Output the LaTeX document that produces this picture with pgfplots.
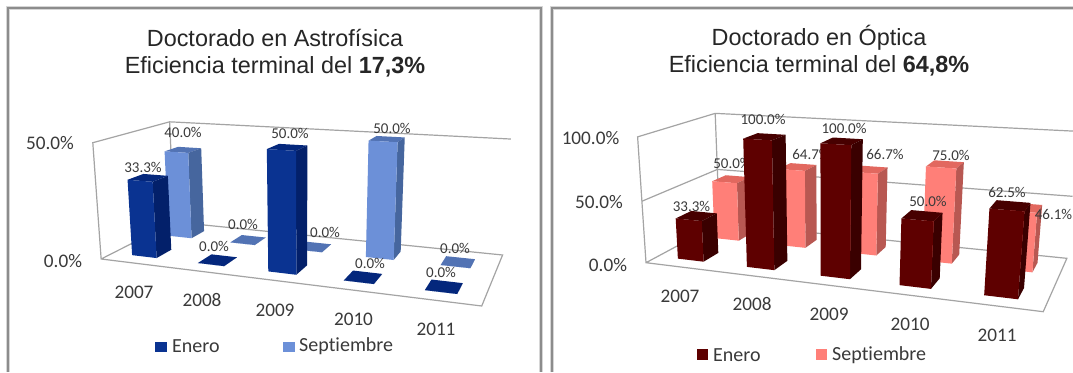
\documentclass[border=0pt]{standalone}
\usepackage{fontspec}
\setmainfont[Ligatures=NoCommon]{Carlito}
\newfontfamily\titlefont{Liberation Sans}
\usepackage{pgfplots}
\pgfplotsset{compat=1.18}

\definecolor{frameline}{HTML}{8C8C8C}
\definecolor{frameglow}{HTML}{D6D6D6}
\definecolor{wall}{HTML}{A4A4A4}
\definecolor{labeltext}{HTML}{3A3A3A}
% Left chart: blues
\definecolor{ajF}{HTML}{0A3391}\definecolor{ajS}{HTML}{03206A}\definecolor{ajT}{HTML}{04277C}
\definecolor{asF}{HTML}{6C90D8}\definecolor{asS}{HTML}{46669E}\definecolor{asT}{HTML}{5273B4}
% Right chart: reds
\definecolor{ojF}{HTML}{5E0000}\definecolor{ojS}{HTML}{3A0000}\definecolor{ojT}{HTML}{470000}
\definecolor{osF}{HTML}{FF7F78}\definecolor{osS}{HTML}{B85852}\definecolor{osT}{HTML}{E2685F}

% Bar footprint on the floor of a chart: c = category slot, d = 0 (Enero) or 1 (Septiembre)
\newcommand{\barface}[6]{%
  \addplot[fill=#5,draw=none] table[row sep=\\,
    x expr={X#1(#2+0.30+0.38*\thisrow{f},#3+0.29+0.40*\thisrow{g},#4*\thisrow{t})},
    y expr={Y#1(#2+0.30+0.38*\thisrow{f},#3+0.29+0.40*\thisrow{g},#4*\thisrow{t})}]
    {f g t\\ #6} --cycle;}
% #1 chart (A or O), #2 category, #3 series, #4 value, #5 colour prefix
\newcommand{\column}[5]{%
  \barface{#1}{#2}{#3}{#4}{#5T}{0 0 1\\ 1 0 1\\ 1 1 1\\ 0 1 1\\}%
  \barface{#1}{#2}{#3}{#4}{#5S}{1 0 0\\ 1 1 0\\ 1 1 1\\ 1 0 1\\}%
  \barface{#1}{#2}{#3}{#4}{#5F}{0 0 0\\ 1 0 0\\ 1 0 1\\ 0 0 1\\}}
\newcommand{\txt}[4][]{\addplot[draw=none] coordinates {(#2,#3)} node[text=labeltext,inner sep=0pt,anchor=center,#1] {#4};}
\newcommand{\vallabel}[3]{\txt[font=\fontsize{15}{15}\selectfont]{#1}{#2}{#3}}
\newcommand{\ticklabel}[3]{\txt[font=\fontsize{19.2}{19.2}\selectfont]{#1}{#2}{#3}}

\begin{document}
\begin{tikzpicture}
\begin{axis}[
  at={(0,0)}, anchor=south west, scale only axis,
  width=1073pt, height=372pt,
  xmin=0, xmax=1073, ymin=0, ymax=372, y dir=reverse,
  hide axis, clip=true,
  declare function={
    WA(\c,\d,\v)=1-0.16502*\c/5+0.16921*\d/2-0.04*\v/50;
    XA(\c,\d,\v)=(301.1*\c/5+102.45*\d/2+101.14-12.05*\v/50)/WA(\c,\d,\v);
    YA(\c,\d,\v)=(-3.5*\c/5+0.56*\d/2+259-122*\v/50)/WA(\c,\d,\v);
    WO(\c,\d,\v)=1-0.16106*\c/5+0.15427*\d/2-0.045*\v/100;
    XO(\c,\d,\v)=545+(317.0*\c/5+100.34*\d/2+101.0-12.56*\v/100)/WO(\c,\d,\v);
    YO(\c,\d,\v)=(-1.19*\c/5-4.95*\d/2+262.7-132*\v/100)/WO(\c,\d,\v);
  }]

% Page background, which also fixes the picture's extent
\addplot[fill=white,draw=none] coordinates {(0,0)(1073,0)(1073,372)(0,372)} --cycle;

% Panel frames
\addplot[frameglow,line width=3.4pt] coordinates {(8,372)(8,8)(541,8)(541,372)};
\addplot[frameline,line width=1.3pt] coordinates {(8,372)(8,8)(541,8)(541,372)};
\addplot[frameglow,line width=3.4pt] coordinates {(552,372)(552,8)(1073,8)};
\addplot[frameline,line width=1.3pt] coordinates {(552,372)(552,8)(1073,8)};

% Titles
\txt[font=\titlefont\fontsize{23.4}{23.4}\selectfont,text=black!85]{275}{38}{Doctorado en Astrofísica}
\txt[font=\titlefont\fontsize{23.4}{23.4}\selectfont,text=black!85]{275}{67}{Eficiencia terminal del \textbf{17,3\%}}
\txt[font=\titlefont\fontsize{23.4}{23.4}\selectfont,text=black!85]{819}{38}{Doctorado en Óptica}
\txt[font=\titlefont\fontsize{23.4}{23.4}\selectfont,text=black!85]{819}{66}{Eficiencia terminal del \textbf{64,8\%}}

% ---------- Doctorado en Astrofísica ----------
\addplot[wall,line width=1.2pt] table[row sep=\\,x expr={XA(\thisrow{c},\thisrow{d},\thisrow{v})},y expr={YA(\thisrow{c},\thisrow{d},\thisrow{v})}]
  {c d v\\ 5 2 50\\ 0 2 50\\ 0 0 50\\ 0 0 0\\ 5 0 0\\ 5 2 0\\ 0 2 0\\ 0 0 0\\};
\addplot[wall,line width=1.2pt] table[row sep=\\,x expr={XA(\thisrow{c},\thisrow{d},\thisrow{v})},y expr={YA(\thisrow{c},\thisrow{d},\thisrow{v})}]
  {c d v\\ 0 2 0\\ 0 2 50\\};

\ticklabel{50}{143}{50.0\%}
\ticklabel{63}{261}{0.0\%}
\ticklabel{134}{292}{2007}
\ticklabel{202}{300}{2008}
\ticklabel{275}{310}{2009}
\ticklabel{353.5}{319}{2010}
\ticklabel{436}{329}{2011}

% Septiembre
\column{A}{0}{1}{40}{as}
\vallabel{183}{132}{40.0\%}
\column{A}{1}{1}{0}{as}
\vallabel{243}{224}{0.0\%}
\column{A}{2}{1}{0}{as}
\vallabel{325}{232}{0.0\%}
\column{A}{3}{1}{50}{as}
\vallabel{392}{128}{50.0\%}
\column{A}{4}{1}{0}{as}
\vallabel{455}{248}{0.0\%}
% Enero
\column{A}{0}{0}{33.3}{aj}
\vallabel{143}{167}{33.3\%}
\column{A}{1}{0}{0}{aj}
\vallabel{214}{246}{0.0\%}
\column{A}{2}{0}{50}{aj}
\vallabel{290}{133}{50.0\%}
\column{A}{3}{0}{0}{aj}
\vallabel{370}{263}{0.0\%}
\column{A}{4}{0}{0}{aj}
\vallabel{441}{272}{0.0\%}

% Legend
\addplot[fill=ajF,draw=none] coordinates {(155,342)(167,342)(167,352)(155,352)} --cycle;
\addplot[fill=asF,draw=none] coordinates {(283,342)(295,342)(295,352)(283,352)} --cycle;
\txt[anchor=west,font=\fontsize{20}{20}\selectfont]{172}{346}{Enero}
\txt[anchor=west,font=\fontsize{20}{20}\selectfont]{299}{346}{Septiembre}

% ---------- Doctorado en Óptica ----------
\addplot[wall,line width=1.2pt] table[row sep=\\,x expr={XO(\thisrow{c},\thisrow{d},\thisrow{v})},y expr={YO(\thisrow{c},\thisrow{d},\thisrow{v})}]
  {c d v\\ 5 2 100\\ 0 2 100\\ 0 0 100\\ 0 0 0\\ 5 0 0\\ 5 2 0\\ 0 2 0\\ 0 0 0\\};
\addplot[wall,line width=1.2pt] table[row sep=\\,x expr={XO(\thisrow{c},\thisrow{d},\thisrow{v})},y expr={YO(\thisrow{c},\thisrow{d},\thisrow{v})}]
  {c d v\\ 0 2 0\\ 0 2 100\\};
\addplot[wall,line width=1.2pt] table[row sep=\\,x expr={XO(\thisrow{c},\thisrow{d},\thisrow{v})},y expr={YO(\thisrow{c},\thisrow{d},\thisrow{v})}]
  {c d v\\ 0 0 50\\ 0 2 50\\ 5 2 50\\};

\ticklabel{590.5}{138}{100.0\%}
\ticklabel{599}{202}{50.0\%}
\ticklabel{608}{265}{0.0\%}
\ticklabel{680}{296}{2007}
\ticklabel{752}{304}{2008}
\ticklabel{829}{314}{2009}
\ticklabel{910}{324}{2010}
\ticklabel{997}{335}{2011}

% Septiembre
\column{O}{0}{1}{50}{os}
\vallabel{732}{163}{50.0\%}
\column{O}{1}{1}{64.7}{os}
\vallabel{811}{154}{64.7\%}
\column{O}{2}{1}{66.7}{os}
\vallabel{885}{154}{66.7\%}
\column{O}{3}{1}{75}{os}
\vallabel{951}{155}{75.0\%}
\column{O}{4}{1}{46.1}{os}
\vallabel{1053.5}{214}{46.1\%}
% Enero
\column{O}{0}{0}{33.3}{oj}
\vallabel{691.5}{206}{33.3\%}
\column{O}{1}{0}{100}{oj}
\vallabel{763}{119}{100.0\%}
\column{O}{2}{0}{100}{oj}
\vallabel{844}{128}{100.0\%}
\column{O}{3}{0}{50}{oj}
\vallabel{928}{201}{50.0\%}
\column{O}{4}{0}{62.5}{oj}
\vallabel{1007}{192}{62.5\%}

% Legend
\addplot[fill=ojF,draw=none] coordinates {(697,349)(708,349)(708,360)(697,360)} --cycle;
\addplot[fill=osF,draw=none] coordinates {(816,349)(827,349)(827,360)(816,360)} --cycle;
\txt[anchor=west,font=\fontsize{20}{20}\selectfont]{713}{355}{Enero}
\txt[anchor=west,font=\fontsize{20}{20}\selectfont]{832}{355}{Septiembre}
\end{axis}
\end{tikzpicture}
\end{document}
